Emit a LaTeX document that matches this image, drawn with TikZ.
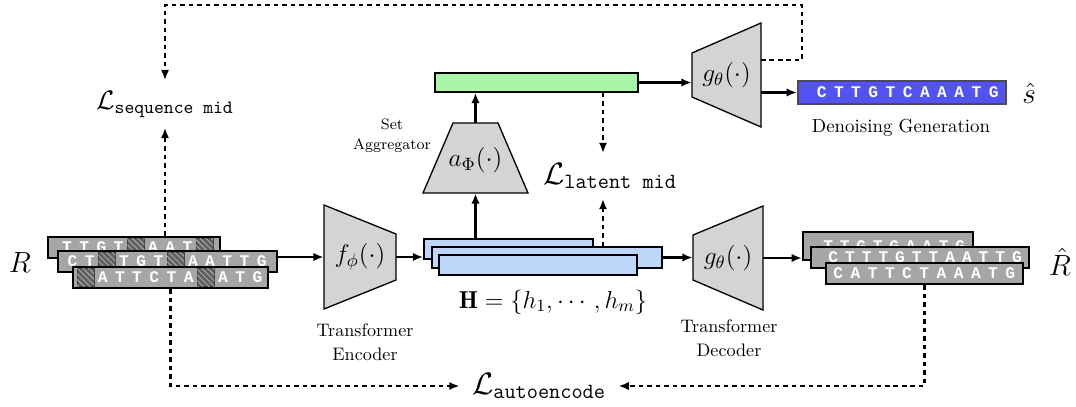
\RequirePackage{fix-cm}
\documentclass[tikz,border=0pt]{standalone}
\usepackage{amsmath}
\usepackage{fontspec}
\newfontfamily\seqfont{Liberation Mono}
\usetikzlibrary{arrows.meta,fit,patterns,calc}
\definecolor{seqgray}{RGB}{166,166,166}
\definecolor{trapgray}{RGB}{212,212,212}
\definecolor{hblue}{RGB}{189,214,250}
\definecolor{lgreen}{RGB}{170,245,168}
\definecolor{sblue}{RGB}{82,82,245}
\tikzset{
  seqbox/.style={draw=black, line width=1.2pt, fill=seqgray, inner sep=0pt},
  letter/.style={text=white, font=\seqfont\bfseries\fontsize{8.6}{9}\selectfont, inner sep=0pt},
  hatchcell/.style={fill=black!62, draw=black!75, line width=0.3pt, minimum width=9pt, minimum height=9.3pt, inner sep=0pt,
    postaction={pattern=north west lines, pattern color=white!70!black}},
  trap/.style={draw=black, line width=0.7pt, fill=trapgray},
  arr/.style={line width=1.2pt, -{Latex[length=5.4pt,width=4.4pt]}},
  darr/.style={arr, dash pattern=on 2.4pt off 2.1pt},
  hbox/.style={draw=black, line width=0.9pt, fill=hblue, inner sep=0pt},
  mathlbl/.style={font=\fontsize{13.5}{16}\selectfont, inner sep=0pt},
  lbl/.style={align=center, inner sep=1pt},
}
\newcommand{\seqrow}[8]{%
  \node[seqbox, fit={(#2,#3)(#4,#5)}] (#1) {};
  \foreach \c [count=\i from 0] in {#8} {
    \pgfmathsetmacro{\cx}{#6+\i*#7}
    \pgfmathsetmacro{\cy}{(#3+#5)/2}
    \if\c H
      \node[hatchcell] (#1-\i) at (\cx,\cy) {};
    \else
      \node[letter] (#1-\i) at (\cx,\cy) {\c};
    \fi
  }%
}
\begin{document}
\begin{tikzpicture}[x=0.53pt,y=-0.53pt]
\useasboundingbox (0,0) rectangle (1076,406);

% input sequences
\seqrow{r1}{48}{237}{220}{258}{67}{17.2}{T,T,G,T,H,A,A,T,H}
\seqrow{r2}{58}{251}{277}{272}{72.5}{17.2}{C,T,H,T,G,T,H,A,A,T,T,G}
\seqrow{r3}{73}{267}{268}{288}{85.5}{17.2}{H,A,T,T,C,T,A,H,A,T,G}

% reconstructed sequences
\seqrow{q1}{803}{232}{973}{260}{828.3}{16.5}{T,T,G,T,G,A,A,T,G}
\seqrow{q2}{811}{247}{1029}{268}{833.3}{16.7}{C,T,T,T,G,T,T,A,A,T,T,G}
\seqrow{q3}{826}{263}{1023}{284}{838.3}{17.2}{C,A,T,T,C,T,A,A,A,T,G}

% encoder
\draw[trap] (324,205) -- (396,234) -- (396,280) -- (324,309) -- cycle;
\node[fit={(324,205)(396,309)}, inner sep=0pt] (enc) {};
\node[mathlbl] (enct) at (enc.center) {$f_\phi(\cdot)$};

% decoder
\draw[trap] (693,235) -- (763,206) -- (763,310) -- (693,280) -- cycle;
\node[fit={(693,206)(763,310)}, inner sep=0pt] (dec) {};
\node[mathlbl] (dect) at (dec.center) {$g_\theta(\cdot)$};

% aggregator
\draw[trap] (453,123) -- (498,123) -- (528,193) -- (423,193) -- cycle;
\node[fit={(423,123)(528,193)}, inner sep=0pt] (agg) {};
\node[mathlbl] (aggt) at ($(agg.center)+(0,2)$) {$a_\Phi(\cdot)$};

% generator
\draw[trap] (692,53) -- (761,23) -- (761,127) -- (692,97) -- cycle;
\node[fit={(692,23)(761,127)}, inner sep=0pt] (gen) {};
\node[mathlbl] (gent) at (gen.center) {$g_\theta(\cdot)$};

% latent set
\node[hbox, fit={(424,239)(593,259)}] (h1) {};
\node[hbox, fit={(432,247)(662,268)}] (h2) {};
\node[hbox, fit={(439,255)(637,275)}] (h3) {};

% aggregated vector
\node[draw=black, line width=0.9pt, fill=lgreen, inner sep=0pt, fit={(435,73)(638,92)}] (green) {};

% generated sequence
\node[draw=black!70, line width=1.2pt, fill=sblue, inner sep=0pt, fit={(798,81)(1006,104)}] (blue) {};
\foreach \c [count=\i from 0] in {C,T,T,G,T,C,A,A,A,T,G} {
  \pgfmathsetmacro{\cx}{821.7+\i*17.2}
  \node[letter] (b-\i) at (\cx,92.5) {\c};
}

% labels
\node[font=\fontsize{15.5}{18}\selectfont, inner sep=0pt] (Rl) at (20,262) {$R$};
\node[font=\fontsize{15.5}{18}\selectfont, inner sep=0pt] (Rh) at (1060,262) {$\hat{R}$};
\node[font=\fontsize{15.5}{18}\selectfont, inner sep=0pt] (sh) at (1029,93) {$\hat{s}$};
\node[lbl, font=\fontsize{9.6}{12.7}\selectfont] (enclbl) at (365,342) {Transformer\\Encoder};
\node[lbl, font=\fontsize{9.6}{12.7}\selectfont] (declbl) at (729,338) {Transformer\\Decoder};
\node[lbl, font=\fontsize{8}{10.6}\selectfont] (agglbl) at (392,136) {Set\\Aggregator};
\node[font=\fontsize{10}{12}\selectfont] (dglbl) at (901,128) {Denoising Generation};
\node[font=\fontsize{13}{15}\selectfont] (hlbl) at (553,302) {$\mathbf{H}=\{h_1,\cdots,h_m\}$};

% losses
\node[font=\fontsize{14.2}{16}\selectfont, minimum height=25pt, inner sep=0pt] (Lseq) at (165,104) {$\mathcal{L}_{\texttt{sequence mid}}$};
\node[font=\fontsize{16.4}{18}\selectfont, minimum height=24pt, inner sep=0pt] (Llat) at (610,176) {$\mathcal{L}_{\texttt{latent mid}}$};
\node[font=\fontsize{16.4}{18}\selectfont, inner xsep=6.5pt, inner ysep=0pt] (Lae) at (539,386) {$\mathcal{L}_{\texttt{autoencode}}$};

% solid connectors
\draw[arr] (r2.east |- enc.west) -- (enc.west);
\draw[arr] (enc.east) -- (enc.east -| h1.west);
\draw[arr] (agg.south |- h1.north) -- (agg.south);
\draw[arr] (agg.north) -- (agg.north |- green.south);
\draw[arr] (green.east) -- (green.east -| gen.west);
\draw[arr] (gen.east |- blue.west) -- (blue.west);
\draw[arr] (h2.east) -- (h2.east -| dec.west);
\draw[arr] (dec.east) -- (dec.east -| q1.west);

% dashed connectors
\coordinate (lx) at (603,0);
\coordinate (gout) at (761,60);
\coordinate (tr) at (802,5);
\draw[darr] (lx |- green.south) -- (lx |- Llat.north);
\draw[darr] (lx |- h2.north) -- (lx |- Llat.south);
\draw[darr] (Lseq.south |- r1.north) -- (Lseq.south);
\draw[darr] (gout) -| (tr) -| (Lseq.north);
\draw[darr] (r3.south) |- (Lae.west);
\draw[darr] (q3.south) |- (Lae.east);
\end{tikzpicture}
\end{document}
